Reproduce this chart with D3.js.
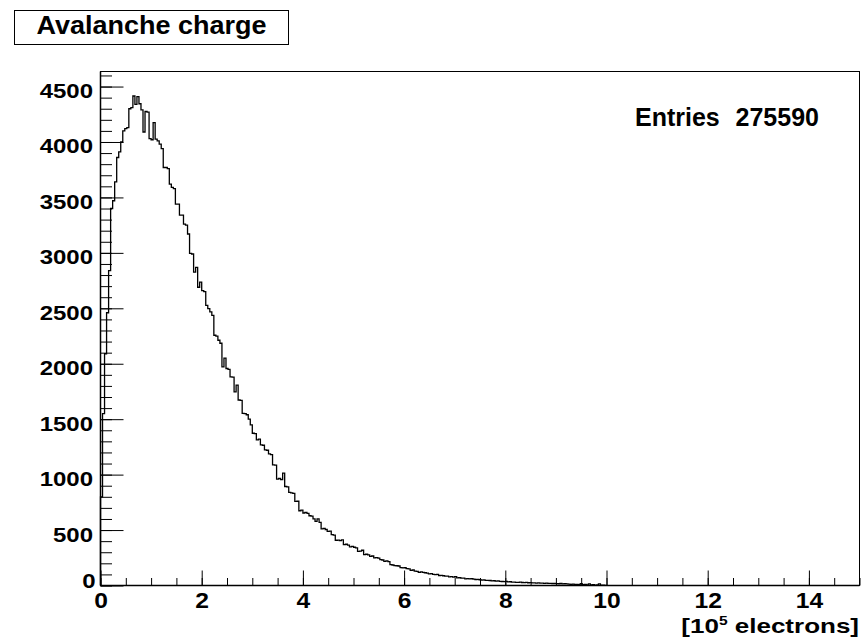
<!DOCTYPE html>
<html>
<head>
<meta charset="utf-8">
<title>Avalanche charge</title>
<script src="https://d3js.org/d3.v7.min.js"></script>
<style>
  body { margin: 0; background: #fff; }
  text { font-family: "Liberation Sans", Arial, sans-serif; font-weight: bold; fill: #000; }
  .tick line { stroke: #000; stroke-width: 1; }
</style>
</head>
<body>
<script>
// histogram data
const histTitle = "Avalanche charge";
const entries = 275590;
const xRange = [0, 15];
const binLow = 0;
const binWidth = 0.04;
const counts = [
  800, 1550, 2090, 2460, 2840, 3400, 3470, 3640, 3860, 3910,
  4000, 4100, 4120, 4130, 4300, 4310, 4415, 4340, 4410, 4345,
  4290, 4090, 4275, 4270, 4030, 4020, 4175, 4025, 4010, 3980,
  3940, 3770, 3770, 3760, 3620, 3590, 3580, 3440, 3440, 3340,
  3340, 3260, 3250, 3170, 2995, 2990, 2826, 2870, 2690, 2736,
  2660, 2650, 2527, 2497, 2467, 2437, 2257, 2250, 2212, 2185,
  1972, 2050, 1957, 1950, 1882, 1880, 1747, 1808, 1673, 1670,
  1553, 1550, 1540, 1500, 1448, 1373, 1370, 1313, 1320, 1268,
  1265, 1223, 1220, 1187, 1180, 1088, 1085, 960, 965, 955,
  1013, 893, 890, 839, 835, 830, 758, 760, 674, 680,
  654, 660, 650, 629, 625, 600, 578, 600, 570, 510,
  515, 505, 488, 490, 459, 455, 408, 410, 405, 412,
  369, 372, 365, 348, 352, 345, 340, 308, 310, 318,
  279, 282, 276, 263, 266, 249, 252, 246, 234, 230,
  218, 222, 215, 189, 185, 180, 178, 176, 162, 159,
  160, 152, 150, 137, 140, 130, 128, 119, 122, 118,
  115, 112, 105, 107, 100, 98, 101, 90, 92, 88,
  85, 84, 78, 80, 76, 79, 69, 70, 67, 66,
  60, 62, 59, 61, 57, 54, 55, 52, 48, 50,
  46, 47, 45, 42, 43, 40, 41, 38, 36, 35,
  37, 33, 34, 30, 31, 29, 28, 30, 27, 26,
  28, 25, 26, 24, 23, 22, 24, 21, 21, 20,
  22, 19, 20, 18, 18, 17, 16, 18, 15, 16,
  14, 12, 10, 13, 9, 11, 8, 16, 7, 9,
  6, 15, 5, 7, 4, 6, 14, 3, 4, 2
];
const xTickValues = [0, 2, 4, 6, 8, 10, 12, 14];
const yTickValues = [0, 500, 1000, 1500, 2000, 2500, 3000, 3500, 4000, 4500];

const W = 861, H = 641;
const svg = d3.select("body").append("svg")
  .attr("width", W)
  .attr("height", H);

const frame = { left: 100.5, right: 859.5, top: 71.5, bottom: 585.5 };

const x = d3.scaleLinear().domain(xRange).range([frame.left, frame.right]);
// ROOT leaves 5% headroom above the highest bin
const yMax = d3.max(counts) * 1.05;
const y = d3.scaleLinear().domain([0, yMax]).range([frame.bottom, frame.top]);

// frame
svg.append("rect")
  .attr("x", frame.left).attr("y", frame.top)
  .attr("width", frame.right - frame.left)
  .attr("height", frame.bottom - frame.top)
  .attr("fill", "none").attr("stroke", "#000").attr("stroke-width", 1);

// histogram outline
const pts = [[binLow, 0]];
counts.forEach((c, i) => pts.push([binLow + i * binWidth, c]));
const lastHi = binLow + counts.length * binWidth;
pts.push([lastHi, counts[counts.length - 1]]);
pts.push([lastHi, 0]);

const line = d3.line()
  .x(d => x(d[0]))
  .y(d => y(d[1]))
  .curve(d3.curveStepAfter);

svg.append("path")
  .datum(pts)
  .attr("d", line)
  .attr("fill", "none")
  .attr("stroke", "#000")
  .attr("stroke-width", 1.3);

// x axis: minor ticks every 0.5, major every 2
const xMinor = x.ticks(30);
svg.append("g")
  .attr("transform", `translate(0,${frame.bottom})`)
  .call(d3.axisBottom(x).tickValues(xMinor).tickSize(-7.5).tickFormat(""))
  .call(g => g.select(".domain").remove());

const gx = svg.append("g")
  .attr("transform", `translate(0,${frame.bottom})`)
  .call(d3.axisBottom(x).tickValues(xTickValues).tickSize(-15).tickFormat(d3.format("d")))
  .call(g => g.select(".domain").remove());
gx.selectAll("text")
  .attr("y", 23).attr("dy", null)
  .style("font-size", "22px")
  .attr("transform", "scale(1.12,1)");

// y axis: minor ticks every 100, major every 500
const yMinor = d3.range(0, yMax, 100);
svg.append("g")
  .attr("transform", `translate(${frame.left},0)`)
  .call(d3.axisLeft(y).tickValues(yMinor).tickSize(-11.5).tickFormat(""))
  .call(g => g.select(".domain").remove());

const gy = svg.append("g")
  .attr("transform", `translate(${frame.left},0)`)
  .call(d3.axisLeft(y).tickValues(yTickValues).tickSize(-23).tickFormat(d3.format("d")))
  .call(g => g.select(".domain").remove());
const ySx = 1.2;
gy.selectAll("text")
  .attr("x", d => (d === 0 ? -5 : -7.5) / ySx)
  .attr("y", d => d === 0 ? 2 : 11)
  .attr("dy", null)
  .style("font-size", "20px")
  .attr("transform", `scale(${ySx},1)`);

// axis lines on top of the frame
svg.append("line")
  .attr("x1", frame.left).attr("x2", frame.right)
  .attr("y1", frame.bottom).attr("y2", frame.bottom)
  .attr("stroke", "#000").attr("stroke-width", 1.5);
svg.append("line")
  .attr("x1", frame.left).attr("x2", frame.left)
  .attr("y1", frame.top).attr("y2", frame.bottom)
  .attr("stroke", "#000").attr("stroke-width", 1.5);

// x axis title
const xt = svg.append("text")
  .attr("text-anchor", "end")
  .attr("transform", `translate(859,633) scale(1.3,1)`)
  .style("font-size", "20px");
xt.append("tspan").text("[10");
xt.append("tspan").attr("dy", -8).style("font-size", "12px").text("5");
xt.append("tspan").attr("dy", 8).text(" electrons]");

// title box
svg.append("rect")
  .attr("x", 14.5).attr("y", 10.5)
  .attr("width", 274).attr("height", 34)
  .attr("fill", "#fff").attr("stroke", "#000").attr("stroke-width", 1);
svg.append("text")
  .attr("text-anchor", "middle")
  .attr("transform", "translate(151.5,33.5) scale(1.08,1)")
  .style("font-size", "25px")
  .text(histTitle);

// stats
svg.append("text")
  .attr("x", 635).attr("y", 126)
  .style("font-size", "25px")
  .text("Entries");
svg.append("text")
  .attr("x", 819).attr("y", 126)
  .attr("text-anchor", "end")
  .style("font-size", "25px")
  .text(entries);
</script>
</body>
</html>
